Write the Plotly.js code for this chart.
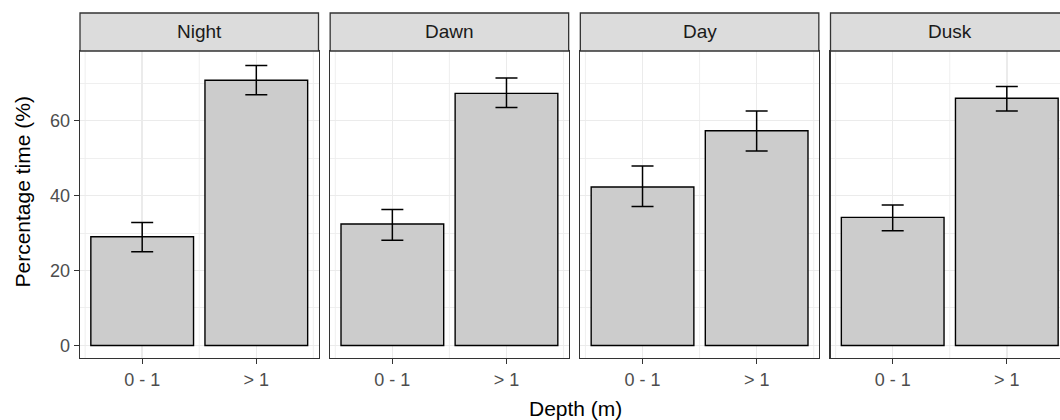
<!DOCTYPE html>
<html>
<head>
<meta charset="utf-8">
<script src="https://cdn.plot.ly/plotly-3.0.1.min.js"></script>
<style>
html, body { margin: 0; padding: 0; overflow: hidden; background: #ffffff; }
#chart { width: 1075px; height: 420px; }
</style>
</head>
<body>
<div id="chart"></div>
<script>
// ---- data ----
const periods = ['Night', 'Dawn', 'Day', 'Dusk'];
const depths = ['0 - 1', '> 1'];
const shallowPct = [29.0, 32.4, 42.3, 34.2];
const shallowLow = [25.0, 28.1, 37.1, 30.6];
const shallowHigh = [32.8, 36.3, 47.9, 37.5];
const deepPct = [70.8, 67.3, 57.3, 66.0];
const deepLow = [66.9, 63.5, 51.9, 62.6];
const deepHigh = [74.7, 71.4, 62.6, 69.1];
const yTicks = [0, 20, 40, 60];

// ---- layout geometry ----
const W = 1075, H = 420;
const mL = 80, mR = 6, mT = 13, mB = 62;
const plotW = W - mL - mR, plotH = H - mT - mB;
const panelW = 238.5;
const gap = (plotW - 4 * panelW) / 3;
const stripH = 38;
const yTop = (plotH - stripH) / plotH;

const font = '"Liberation Sans", Arial, "DejaVu Sans", sans-serif';
const traces = [];
const layout = {
  width: W, height: H,
  margin: {l: mL, r: mR, t: mT, b: mB, pad: 0},
  paper_bgcolor: '#ffffff', plot_bgcolor: '#ffffff',
  showlegend: false,
  bargap: 0.1,
  font: {family: font, color: '#4d4d4d', size: 18},
  shapes: [], annotations: []
};

periods.forEach((p, i) => {
  const ax = i === 0 ? '' : String(i + 1);
  const x0 = (i * (panelW + gap)) / plotW;
  const x1 = (i * (panelW + gap) + panelW) / plotW;
  traces.push({
    type: 'bar',
    x: depths,
    y: [shallowPct[i], deepPct[i]],
    xaxis: 'x' + ax, yaxis: 'y' + ax,
    width: 0.9,
    marker: {color: '#cccccc', line: {color: '#000000', width: 1.4}},
    error_y: {
      type: 'data', symmetric: false,
      array: [shallowHigh[i] - shallowPct[i], deepHigh[i] - deepPct[i]],
      arrayminus: [shallowPct[i] - shallowLow[i], deepPct[i] - deepLow[i]],
      color: '#000000', thickness: 1.5, width: 11
    },
    hoverinfo: 'skip'
  });
  layout['xaxis' + ax] = {
    domain: [x0, x1], anchor: 'y' + ax,
    type: 'category', range: [-0.545, 1.545],
    showgrid: true, gridcolor: '#ebebeb', gridwidth: 1.4,
    showline: true, mirror: true, linecolor: '#333333', linewidth: 1.3,
    ticks: 'outside', ticklen: 5, tickwidth: 1.2, tickcolor: '#333333',
    tickfont: {size: 18, color: '#4d4d4d', family: font},
    zeroline: false, fixedrange: true
  };
  layout['yaxis' + ax] = {
    domain: [0, yTop], anchor: 'x' + ax,
    range: [-3.35, 78.6],
    tickvals: yTicks,
    showgrid: true, gridcolor: '#ebebeb', gridwidth: 1.4,
    minor: {dtick: 10, tick0: 0, showgrid: true, gridcolor: '#ededed', gridwidth: 0.9, ticks: ''},
    showline: true, mirror: true, linecolor: '#333333', linewidth: 1.3,
    ticks: i === 0 ? 'outside' : '', ticklen: 5, tickwidth: 1.2, tickcolor: '#333333',
    showticklabels: i === 0,
    tickfont: {size: 18, color: '#4d4d4d', family: font},
    zeroline: false, fixedrange: true
  };
  // minor vertical grid lines (between/outside categories)
  [-0.5, 0.5, 1.5].forEach(v => {
    layout.shapes.push({
      type: 'line', layer: 'below',
      xref: 'x' + ax, yref: 'y' + ax + ' domain',
      x0: v, x1: v, y0: 0, y1: 1,
      line: {color: '#ededed', width: 0.9}
    });
  });
  // strip
  layout.shapes.push({
    type: 'rect', layer: 'above',
    xref: 'paper', yref: 'paper',
    x0: x0, x1: x1, y0: yTop, y1: 1,
    fillcolor: '#dcdcdc', line: {color: '#333333', width: 1.3}
  });
  layout.annotations.push({
    xref: 'paper', yref: 'paper',
    x: (x0 + x1) / 2, y: (yTop + 1) / 2,
    xanchor: 'center', yanchor: 'middle',
    text: p, showarrow: false,
    font: {size: 19, color: '#1a1a1a', family: font}
  });
});

// axis titles
layout.annotations.push({
  xref: 'paper', yref: 'paper',
  x: (22 - mL) / plotW, y: (H - mB - 192.5) / plotH,
  xanchor: 'center', yanchor: 'middle', textangle: -90,
  text: 'Percentage time (%)', showarrow: false,
  font: {size: 21, color: '#000000', family: font}
});
layout.annotations.push({
  xref: 'paper', yref: 'paper',
  x: (575 - mL) / plotW, y: (H - mB - 408) / plotH,
  xanchor: 'center', yanchor: 'middle',
  text: 'Depth (m)', showarrow: false,
  font: {size: 21, color: '#000000', family: font}
});

Plotly.newPlot('chart', traces, layout, {staticPlot: true, displayModeBar: false});
</script>
</body>
</html>
